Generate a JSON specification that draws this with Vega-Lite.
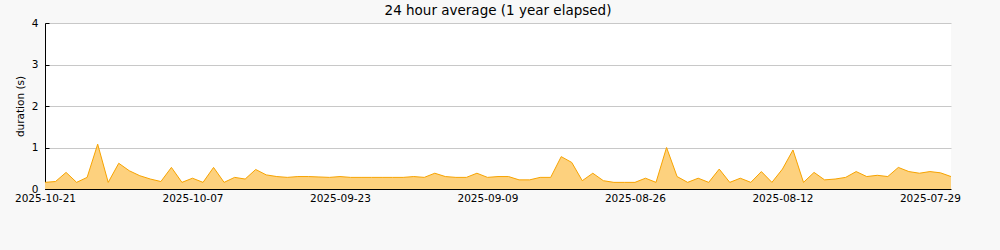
{
  "$schema": "https://vega.github.io/schema/vega-lite/v6.json",
  "width": 906,
  "height": 166,
  "autosize": {"type": "none"},
  "padding": {"left": 45, "top": 23, "right": 49, "bottom": 61},
  "background": "#f8f8f8",
  "title": {"text": "24 hour average (1 year elapsed)", "fontSize": 13.5, "font": "DejaVu Sans", "fontWeight": "normal", "color": "#000000", "anchor": "middle", "offset": 1},
  "config": {"view": {"fill": "white", "stroke": null}, "font": "DejaVu Sans"},
  "data": {"values": [
    {"date": "2025-10-21", "duration": 0.16},
    {"date": "2025-10-20", "duration": 0.18},
    {"date": "2025-10-19", "duration": 0.40},
    {"date": "2025-10-18", "duration": 0.16},
    {"date": "2025-10-17", "duration": 0.28},
    {"date": "2025-10-16", "duration": 1.08},
    {"date": "2025-10-15", "duration": 0.16},
    {"date": "2025-10-14", "duration": 0.62},
    {"date": "2025-10-13", "duration": 0.44},
    {"date": "2025-10-12", "duration": 0.32},
    {"date": "2025-10-11", "duration": 0.24},
    {"date": "2025-10-10", "duration": 0.18},
    {"date": "2025-10-09", "duration": 0.52},
    {"date": "2025-10-08", "duration": 0.16},
    {"date": "2025-10-07", "duration": 0.26},
    {"date": "2025-10-06", "duration": 0.16},
    {"date": "2025-10-05", "duration": 0.52},
    {"date": "2025-10-04", "duration": 0.16},
    {"date": "2025-10-03", "duration": 0.28},
    {"date": "2025-10-02", "duration": 0.24},
    {"date": "2025-10-01", "duration": 0.47},
    {"date": "2025-09-30", "duration": 0.34},
    {"date": "2025-09-29", "duration": 0.30},
    {"date": "2025-09-28", "duration": 0.28},
    {"date": "2025-09-27", "duration": 0.30},
    {"date": "2025-09-26", "duration": 0.30},
    {"date": "2025-09-25", "duration": 0.29},
    {"date": "2025-09-24", "duration": 0.28},
    {"date": "2025-09-23", "duration": 0.30},
    {"date": "2025-09-22", "duration": 0.28},
    {"date": "2025-09-21", "duration": 0.28},
    {"date": "2025-09-20", "duration": 0.28},
    {"date": "2025-09-19", "duration": 0.28},
    {"date": "2025-09-18", "duration": 0.28},
    {"date": "2025-09-17", "duration": 0.28},
    {"date": "2025-09-16", "duration": 0.30},
    {"date": "2025-09-15", "duration": 0.28},
    {"date": "2025-09-14", "duration": 0.38},
    {"date": "2025-09-13", "duration": 0.30},
    {"date": "2025-09-12", "duration": 0.28},
    {"date": "2025-09-11", "duration": 0.28},
    {"date": "2025-09-10", "duration": 0.38},
    {"date": "2025-09-09", "duration": 0.28},
    {"date": "2025-09-08", "duration": 0.30},
    {"date": "2025-09-07", "duration": 0.30},
    {"date": "2025-09-06", "duration": 0.22},
    {"date": "2025-09-05", "duration": 0.22},
    {"date": "2025-09-04", "duration": 0.28},
    {"date": "2025-09-03", "duration": 0.28},
    {"date": "2025-09-02", "duration": 0.78},
    {"date": "2025-09-01", "duration": 0.64},
    {"date": "2025-08-31", "duration": 0.20},
    {"date": "2025-08-30", "duration": 0.38},
    {"date": "2025-08-29", "duration": 0.20},
    {"date": "2025-08-28", "duration": 0.16},
    {"date": "2025-08-27", "duration": 0.16},
    {"date": "2025-08-26", "duration": 0.16},
    {"date": "2025-08-25", "duration": 0.26},
    {"date": "2025-08-24", "duration": 0.16},
    {"date": "2025-08-23", "duration": 1.00},
    {"date": "2025-08-22", "duration": 0.30},
    {"date": "2025-08-21", "duration": 0.16},
    {"date": "2025-08-20", "duration": 0.26},
    {"date": "2025-08-19", "duration": 0.16},
    {"date": "2025-08-18", "duration": 0.48},
    {"date": "2025-08-17", "duration": 0.16},
    {"date": "2025-08-16", "duration": 0.26},
    {"date": "2025-08-15", "duration": 0.16},
    {"date": "2025-08-14", "duration": 0.42},
    {"date": "2025-08-13", "duration": 0.16},
    {"date": "2025-08-12", "duration": 0.48},
    {"date": "2025-08-11", "duration": 0.94},
    {"date": "2025-08-10", "duration": 0.16},
    {"date": "2025-08-09", "duration": 0.40},
    {"date": "2025-08-08", "duration": 0.22},
    {"date": "2025-08-07", "duration": 0.24},
    {"date": "2025-08-06", "duration": 0.28},
    {"date": "2025-08-05", "duration": 0.42},
    {"date": "2025-08-04", "duration": 0.30},
    {"date": "2025-08-03", "duration": 0.33},
    {"date": "2025-08-02", "duration": 0.30},
    {"date": "2025-08-01", "duration": 0.52},
    {"date": "2025-07-31", "duration": 0.42},
    {"date": "2025-07-30", "duration": 0.38},
    {"date": "2025-07-29", "duration": 0.42},
    {"date": "2025-07-28", "duration": 0.39},
    {"date": "2025-07-27", "duration": 0.30}
  ]},
  "mark": {"type": "area", "color": "#fdd17e", "opacity": 1, "interpolate": "linear", "line": {"color": "#f7a300", "strokeWidth": 1}},
  "encoding": {
    "x": {
      "field": "date",
      "type": "temporal",
      "scale": {"type": "utc", "domain": [{"year": 2025, "month": 7, "date": 27, "utc": true}, {"year": 2025, "month": 10, "date": 21, "utc": true}], "reverse": true, "nice": false},
      "axis": {
        "values": [
          {"year": 2025, "month": 10, "date": 21, "utc": true},
          {"year": 2025, "month": 10, "date": 14, "utc": true},
          {"year": 2025, "month": 10, "date": 7, "utc": true},
          {"year": 2025, "month": 9, "date": 30, "utc": true},
          {"year": 2025, "month": 9, "date": 23, "utc": true},
          {"year": 2025, "month": 9, "date": 16, "utc": true},
          {"year": 2025, "month": 9, "date": 9, "utc": true},
          {"year": 2025, "month": 9, "date": 2, "utc": true},
          {"year": 2025, "month": 8, "date": 26, "utc": true},
          {"year": 2025, "month": 8, "date": 19, "utc": true},
          {"year": 2025, "month": 8, "date": 12, "utc": true},
          {"year": 2025, "month": 8, "date": 5, "utc": true},
          {"year": 2025, "month": 7, "date": 29, "utc": true}
        ],
        "format": "%Y-%m-%d",
        "labelExpr": "(round((utc(2025,9,21) - datum.value) / 86400000) % 14) == 0 ? datum.label : ''",
        "title": null,
        "grid": false,
        "tickSize": -5,
        "tickColor": "#000000",
        "domainColor": "#000000",
        "labelColor": "#000000",
        "labelFontSize": 10.5,
        "labelPadding": 9,
        "labelFlush": false,
        "labelOverlap": false
      }
    },
    "y": {
      "field": "duration",
      "type": "quantitative",
      "scale": {"domain": [0, 4], "nice": false},
      "axis": {
        "values": [0, 0.5, 1, 1.5, 2, 2.5, 3, 3.5, 4],
        "format": "d",
        "labelExpr": "datum.value % 1 ? '' : datum.label",
        "title": "duration (s)",
        "titleFontWeight": "normal",
        "titleFontSize": 10.5,
        "titleColor": "#000000",
        "titlePadding": 6,
        "grid": true,
        "gridColor": "#c8c8c8",
        "gridOpacity": {"condition": {"test": "datum.value % 1 != 0 || datum.value == 0", "value": 0}, "value": 1},
        "tickSize": -4,
        "tickColor": "#000000",
        "domainColor": "#000000",
        "labelColor": "#000000",
        "labelFontSize": 10.5,
        "labelPadding": 11
      }
    }
  }
}
